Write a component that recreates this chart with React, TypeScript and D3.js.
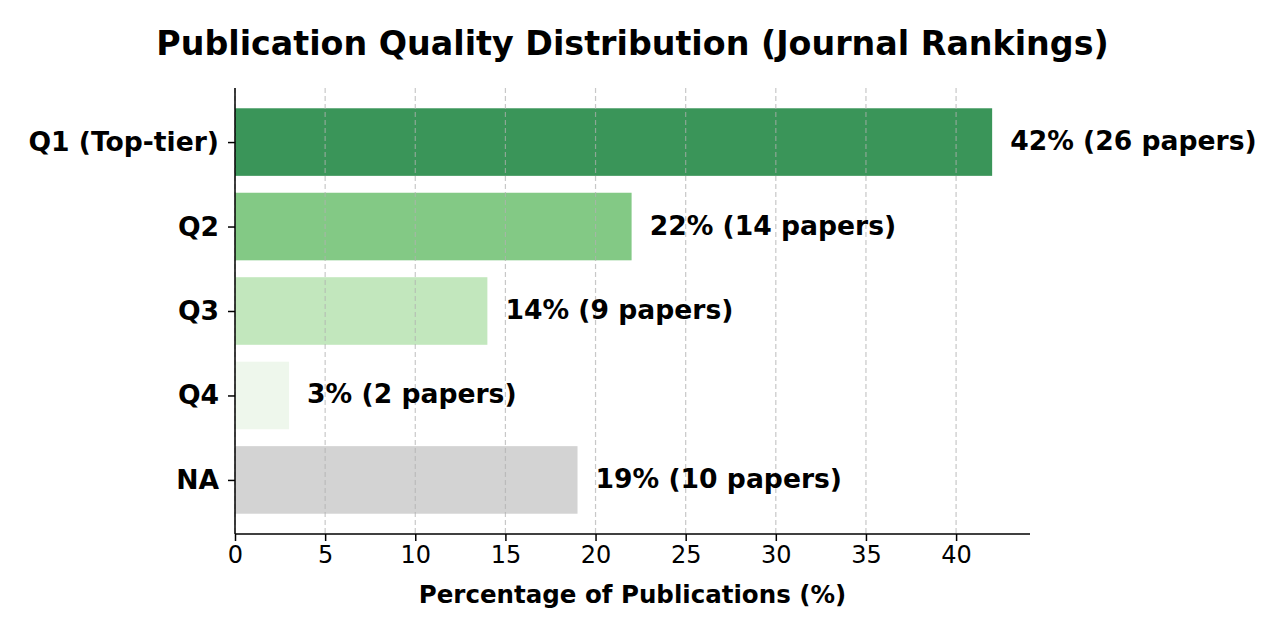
import React, { useEffect, useRef } from 'react';
import * as d3 from 'd3';

const categories = ['Q1 (Top-tier)', 'Q2', 'Q3', 'Q4', 'NA'];
const percentages = [42, 22, 14, 3, 19];
const paperCounts = [26, 14, 9, 2, 10];
const barColors = ['#3a9559', '#83c985', '#c2e7bd', '#eef7ec', '#d3d3d3'];
const xTicks = [0, 5, 10, 15, 20, 25, 30, 35, 40];

const WIDTH = 1280;
const HEIGHT = 640;
const MARGIN = { top: 88, right: 250, bottom: 106, left: 235 };
const FONT = 'DejaVu Sans, sans-serif';

const App: React.FC = () => {
  const svgRef = useRef<SVGSVGElement>(null);

  useEffect(() => {
    document.body.style.margin = '0';
    if (!svgRef.current) return;
    const svg = d3.select(svgRef.current);
    svg.selectAll('*').remove();

    const innerW = WIDTH - MARGIN.left - MARGIN.right;
    const innerH = HEIGHT - MARGIN.top - MARGIN.bottom;

    const x = d3.scaleLinear().domain([0, 42 * 1.05]).range([0, innerW]);
    // matplotlib-like band: bars of height 0.8 with 0.24 unit margin
    const y = d3.scaleLinear().domain([-0.64, categories.length - 1 + 0.64]).range([0, innerH]);
    const barH = y(0.8) - y(0);

    const g = svg.append('g').attr('transform', `translate(${MARGIN.left},${MARGIN.top})`);

    // bars
    g.selectAll('rect.bar')
      .data(categories)
      .join('rect')
      .attr('class', 'bar')
      .attr('x', x(0))
      .attr('y', (_, i) => y(i - 0.4))
      .attr('width', (_, i) => x(percentages[i]) - x(0))
      .attr('height', barH)
      .attr('fill', (_, i) => barColors[i]);

    // grid (drawn over the bars, faint)
    g.selectAll('line.grid')
      .data(xTicks)
      .join('line')
      .attr('class', 'grid')
      .attr('x1', d => x(d))
      .attr('x2', d => x(d))
      .attr('y1', 0)
      .attr('y2', innerH)
      .attr('stroke', '#b0b0b0')
      .attr('stroke-opacity', 0.7)
      .attr('stroke-width', 1.2)
      .attr('stroke-dasharray', '5,3');

    // value labels
    g.selectAll('text.val')
      .data(categories)
      .join('text')
      .attr('class', 'val')
      .attr('x', (_, i) => x(percentages[i] + 1))
      .attr('y', (_, i) => y(i))
      .attr('dy', '0.3em')
      .attr('font-family', FONT)
      .attr('font-weight', 'bold')
      .attr('font-size', 26.6)
      .attr('fill', '#000')
      .text((_, i) => `${percentages[i]}% (${paperCounts[i]} papers)`);

    // x axis
    const xAxis = d3.axisBottom(x).tickValues(xTicks).tickSize(7).tickPadding(5).tickFormat(d => `${d}`);
    const xg = g.append('g').attr('transform', `translate(0,${innerH})`).call(xAxis);
    xg.select('.domain').attr('stroke', '#000').attr('stroke-width', 1.5).attr('d', `M0,0H${innerW}`);
    xg.selectAll('.tick line').attr('stroke', '#000').attr('stroke-width', 1.5);
    xg.selectAll('.tick text')
      .attr('font-family', FONT)
      .attr('font-size', 24)
      .attr('fill', '#000');

    // y axis
    const yAxis = d3.axisLeft(y).tickValues(d3.range(categories.length)).tickSize(7).tickPadding(9)
      .tickFormat(d => categories[d as number]);
    const yg = g.append('g').call(yAxis);
    yg.select('.domain').attr('stroke', '#000').attr('stroke-width', 1.5).attr('d', `M0,0V${innerH}`);
    yg.selectAll('.tick line').attr('stroke', '#000').attr('stroke-width', 1.5);
    yg.selectAll('.tick text')
      .attr('font-family', FONT)
      .attr('font-weight', 'bold')
      .attr('font-size', 26.6)
      .attr('fill', '#000');

    // x label
    g.append('text')
      .attr('x', innerW / 2)
      .attr('y', innerH + 69)
      .attr('text-anchor', 'middle')
      .attr('font-family', FONT)
      .attr('font-weight', 'bold')
      .attr('font-size', 24.5)
      .attr('fill', '#000')
      .text('Percentage of Publications (%)');

    // title
    svg.append('text')
      .attr('x', MARGIN.left + innerW / 2)
      .attr('y', 55)
      .attr('text-anchor', 'middle')
      .attr('font-family', FONT)
      .attr('font-weight', 'bold')
      .attr('font-size', 33.3)
      .attr('fill', '#000')
      .text('Publication Quality Distribution (Journal Rankings)');
  }, []);

  return <svg ref={svgRef} width={WIDTH} height={HEIGHT} style={{ display: 'block', background: '#fff' }} />;
};

export default App;
